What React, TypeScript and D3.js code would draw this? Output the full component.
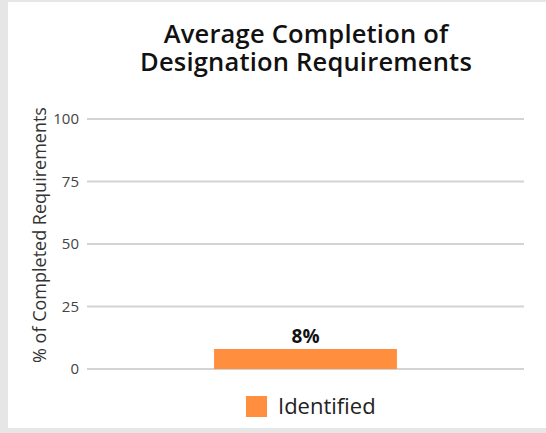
import React from 'react';
import * as d3 from 'd3';

const categories = ['Identified'];
const values = [8];
const yTicks = [0, 25, 50, 75, 100];
const titleLines = ['Average Completion of', 'Designation Requirements'];
const yLabel = '% of Completed Requirements';

const W = 546;
const H = 433;
const FONT = '"Open Sans", Lato, sans-serif';

const App = () => {
  const x = d3.scaleBand().domain(categories).range([87, 524]).padding(0.41);
  const y = d3.scaleLinear().domain([0, 100]).range([369, 119]);
  const color = '#ff8f3f';

  return (
    <svg
      width={W}
      height={H}
      style={{ position: 'absolute', left: 0, top: 0, fontFamily: FONT }}
    >
      <rect x={0} y={0} width={W} height={H} fill="#e6e6e6" />
      <rect x={8} y={2} width={W - 8} height={426} fill="#fff" />

      {/* title as one text block */}
      <text textAnchor="middle" fontSize={25.5} fontWeight={600} letterSpacing={0.2} fill="#111">
        {titleLines.map((t, i) => (
          <tspan key={t} x={306} y={43 + i * 28}>
            {t}
          </tspan>
        ))}
      </text>

      {yTicks.map((t) => (
        <g key={t}>
          <line x1={87} x2={524} y1={y(t)} y2={y(t)} stroke="#d3d3d3" strokeWidth={2} />
          <text x={79} y={y(t)} dy="0.35em" textAnchor="end" fontSize={15} fill="#444">
            {t}
          </text>
        </g>
      ))}

      <text
        transform={`translate(46,235) rotate(-90)`}
        textAnchor="middle"
        fontSize={18}
        fill="#333"
      >
        {yLabel}
      </text>

      {categories.map((c, i) => (
        <g key={c}>
          <rect
            x={x(c)}
            y={y(values[i])}
            width={x.bandwidth()}
            height={y(0) - y(values[i])}
            fill={color}
          />
          <text
            x={(x(c) ?? 0) + x.bandwidth() / 2}
            y={y(values[i]) - 6}
            textAnchor="middle"
            fontSize={19}
            fontWeight={700}
            fill="#111"
          >
            {values[i]}%
          </text>
        </g>
      ))}

      {categories.map((c) => (
        <g key={'lg' + c}>
          <rect x={246} y={396} width={21} height={21} fill={color} />
          <text x={278} y={414} fontSize={22} fill="#222">
            {c}
          </text>
        </g>
      ))}
    </svg>
  );
};

export default App;
